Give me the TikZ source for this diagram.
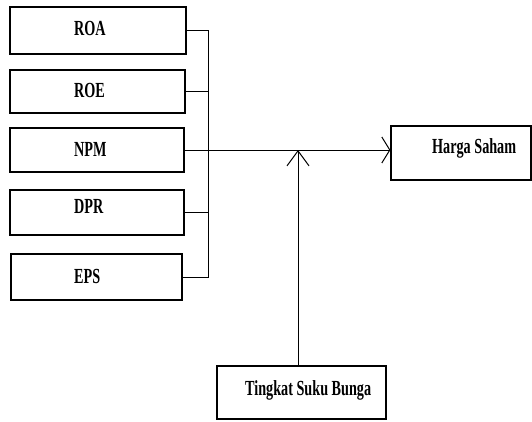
\documentclass[tikz,border=0pt]{standalone}
\usepackage{fontspec}
\setmainfont{Liberation Serif}[FakeStretch=0.66]
\usetikzlibrary{arrows.meta}

\tikzstyle{varbox}=[rectangle, draw=black, line width=1.2pt, inner sep=0pt]
\tikzstyle{boxtext}=[anchor=base west, inner sep=0pt, font=\fontsize{21.5}{22}\selectfont\bfseries]
\tikzstyle{line}=[-, line width=1pt]
\tikzstyle{myarrow}=[-{Straight Barb[length=8pt, width=26pt]}, line width=1pt]
\tikzstyle{uparrow}=[-{Straight Barb[length=15pt, width=22pt]}, line width=1pt]

\begin{document}
\begin{tikzpicture}[x=1pt, y=1pt]
			\useasboundingbox (0,0) rectangle (532,421);
			\node (roa) at (98, 390.5) [varbox, minimum width=176pt, minimum height=47pt] {};
			\node (roa text) at (74, 385) [boxtext] {ROA};
			\node (roe) at (97.5, 329.5) [varbox, minimum width=175pt, minimum height=43pt] {};
			\node (roe text) at (74, 323) [boxtext] {ROE};
			\node (npm) at (97, 271) [varbox, minimum width=174pt, minimum height=44pt] {};
			\node (npm text) at (74, 265) [boxtext] {NPM};
			\node (dpr) at (97, 208.5) [varbox, minimum width=174pt, minimum height=45pt] {};
			\node (dpr text) at (74, 208) [boxtext] {DPR};
			\node (eps) at (96.5, 144) [varbox, minimum width=171pt, minimum height=46pt] {};
			\node (eps text) at (74, 138) [boxtext] {EPS};

			\node (harga) at (461, 268) [varbox, minimum width=140pt, minimum height=54pt] {};
			\node (harga text) at (432, 268) [boxtext] {Harga Saham};
			\node (bunga) at (301.5, 28.5) [varbox, minimum width=169pt, minimum height=53pt] {};
			\node (bunga text) at (245, 26) [boxtext] {Tingkat Suku Bunga};

			\coordinate (bus) at (208, 0);
			\coordinate (rate) at (298, 55);
			\draw[line] (roa.east) -- (roa.east -| bus) -- (eps.east -| bus) -- (eps.east);
			\draw[line] (roe.east) -- (roe.east -| bus);
			\draw[line] (dpr.east) -- (dpr.east -| bus);

			\draw[myarrow] (npm.east) -- (npm.east -| harga.west);
			\draw[uparrow] (rate) -- (rate |- npm.east);
		\end{tikzpicture}
\end{document}
